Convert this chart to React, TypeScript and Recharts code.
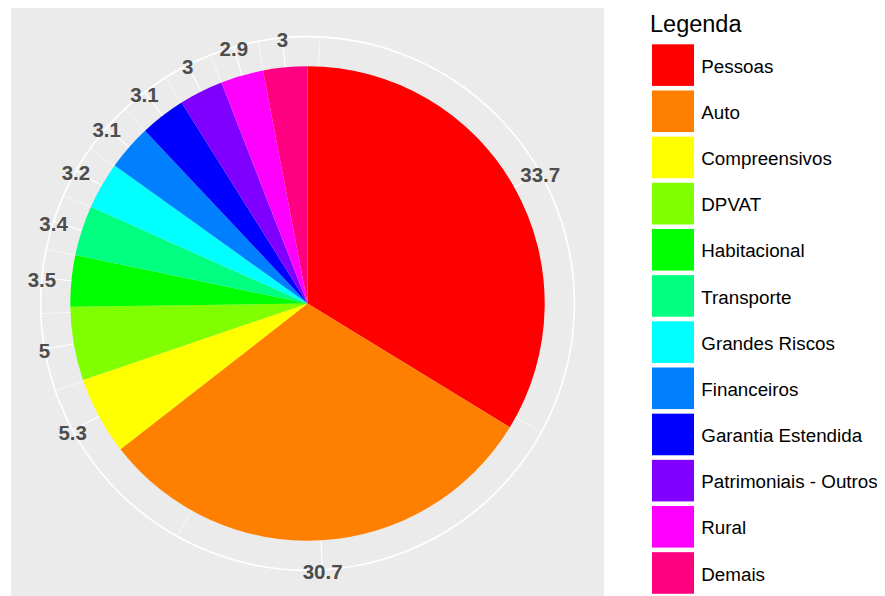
import { PieChart, Pie, Cell } from 'recharts'

const categories = [
  'Pessoas',
  'Auto',
  'Compreensivos',
  'DPVAT',
  'Habitacional',
  'Transporte',
  'Grandes Riscos',
  'Financeiros',
  'Garantia Estendida',
  'Patrimoniais - Outros',
  'Rural',
  'Demais',
]
const shares = [33.7, 30.7, 5.3, 5, 3.5, 3.4, 3.2, 3.1, 3.1, 3, 2.9, 3]
const shareLabels = ['33.7', '30.7', '5.3', '5', '3.5', '3.4', '3.2', '3.1', '3.1', '3', '2.9', '3']
const colors = [
  '#FF0000', '#FF8000', '#FFFF00', '#80FF00', '#00FF00', '#00FF80',
  '#00FFFF', '#0080FF', '#0000FF', '#8000FF', '#FF00FF', '#FF0080',
]

const data = categories.map((name, i) => ({ name, value: shares[i], label: shareLabels[i] }))

const FONT = '"Liberation Sans", Arial, sans-serif'
const RAD = Math.PI / 180

// angles in recharts convention (0 = 3 o'clock, ccw positive), pie goes clockwise from 12
const total = shares.reduce((a, b) => a + b, 0)
const midAngles: number[] = []
{
  let acc = 0
  shares.forEach((v) => {
    midAngles.push(90 - ((acc + v / 2) / total) * 360)
    acc += v
  })
}
// minor grid lines sit halfway between label breaks (plus one before the first)
const minorAngles = midAngles.map((m, i) =>
  i === 0 ? m + (m - midAngles[1]) / 2 : (midAngles[i - 1] + m) / 2
)

const pt = (cx: number, cy: number, r: number, a: number) => ({
  x: cx + Math.cos(-a * RAD) * r,
  y: cy + Math.sin(-a * RAD) * r,
})

const renderGrid = (props: any) => {
  const { cx, cy, outerRadius, index, midAngle } = props
  const R = outerRadius * 1.125
  const a1 = pt(cx, cy, outerRadius, midAngle)
  const a2 = pt(cx, cy, R, midAngle)
  const b1 = pt(cx, cy, outerRadius, minorAngles[index])
  const b2 = pt(cx, cy, R, minorAngles[index])
  return (
    <g key={'g' + index}>
      {index === 0 && <circle cx={cx} cy={cy} r={R} fill='none' stroke='#FFFFFF' strokeWidth={1.6} />}
      <line x1={a1.x} y1={a1.y} x2={a2.x} y2={a2.y} stroke='#FFFFFF' strokeWidth={1.1} />
      <line x1={b1.x} y1={b1.y} x2={b2.x} y2={b2.y} stroke='#FFFFFF' strokeWidth={0.6} />
    </g>
  )
}

const renderText = (props: any) => {
  const { cx, cy, outerRadius, index, midAngle } = props
  const p = pt(cx, cy, outerRadius * 1.125, midAngle)
  return (
    <text
      key={'t' + index}
      x={p.x}
      y={p.y + 9.4}
      textAnchor='middle'
      fontFamily={FONT}
      fontWeight='bold'
      fontSize={20.5}
      fill='#4D4D4D'
    >
      {data[index].label}
    </text>
  )
}

const App = () => {
  return (
    <div style={{ position: 'relative', width: 885, height: 596, marginTop: -8, marginLeft: -8, overflow: 'hidden', background: '#fff' }}>
      <div style={{ position: 'absolute', left: 11, top: 7, width: 593, height: 593, background: '#EBEBEB' }} />
      <div style={{ position: 'absolute', left: 0, top: 0 }}>
        <PieChart width={885} height={596} margin={{ top: 0, right: 0, bottom: 0, left: 0 }}>
          <Pie
            data={data}
            dataKey='value'
            cx={307.5}
            cy={303.5}
            outerRadius={237.2}
            startAngle={90}
            endAngle={-270}
            fill='none'
            stroke='none'
            label={renderGrid}
            labelLine={false}
            isAnimationActive={false}
          />
          <Pie
            data={data}
            dataKey='value'
            cx={307.5}
            cy={303.5}
            outerRadius={237.2}
            startAngle={90}
            endAngle={-270}
            stroke='none'
            label={renderText}
            labelLine={false}
            isAnimationActive={false}
          >
            {data.map((d, i) => (
              <Cell key={d.name} fill={colors[i]} />
            ))}
          </Pie>
        </PieChart>
      </div>
      <svg width={885} height={596} style={{ position: 'absolute', left: 0, top: 0 }}>
        <text x={650} y={32.3} fontFamily={FONT} fontSize={23.5} fill='#000'>
          Legenda
        </text>
        {categories.map((name, i) => (
          <g key={name}>
            <rect x={652} y={44.3 + i * 46.17} width={42} height={41.6} fill={colors[i]} />
            <text x={701.3} y={72.7 + i * 46.17} fontFamily={FONT} fontSize={18.8} fill='#000'>
              {name}
            </text>
          </g>
        ))}
      </svg>
    </div>
  )
}

export default App
